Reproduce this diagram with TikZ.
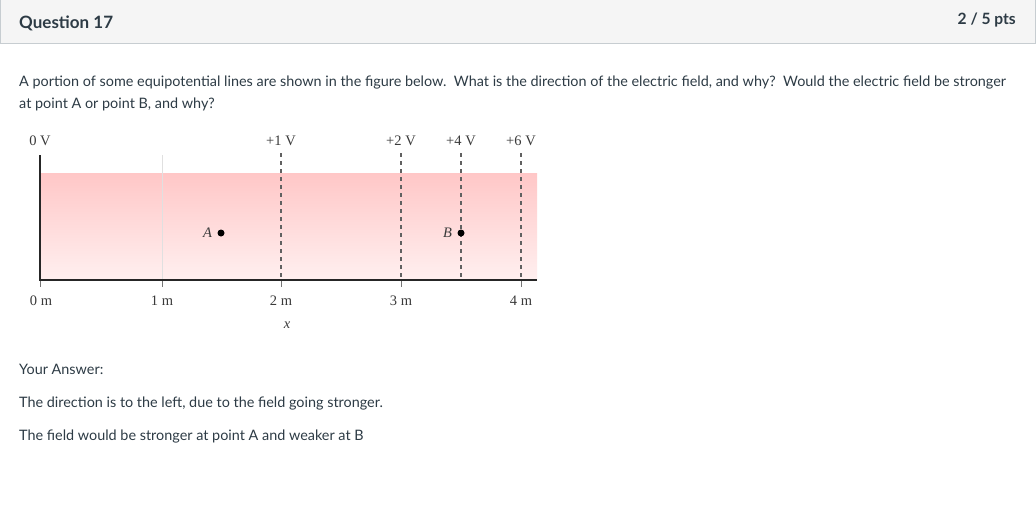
\documentclass[tikz,border=0pt]{standalone}
\usepackage{fontspec}
\setmainfont{Lato}
\newfontfamily\figfont{Liberation Serif}
\usetikzlibrary{positioning}
\definecolor{inktext}{HTML}{2D3B45}
\definecolor{bandgray}{HTML}{F5F5F5}
\definecolor{rulegray}{HTML}{C7CDD1}
\definecolor{figgray}{HTML}{3A3A3A}

\begin{document}
\begin{tikzpicture}[x=1pt, y=-1pt]
  \tikzstyle{body} = [anchor=base west, inner sep=0pt, text=inktext,
                      font=\fontsize{14.4}{17}\selectfont]
  \tikzstyle{figlabel} = [inner sep=0pt, text=figgray, font=\figfont\fontsize{14.5}{17}\selectfont]
  \tikzstyle{figitalic} = [figlabel, font=\figfont\fontsize{14.5}{17}\selectfont\itshape]
  \tikzstyle{equipot} = [draw=figgray!80, line width=1.1pt, dash pattern=on 3.5pt off 4.5pt]
  \tikzstyle{axis} = [draw=black!85, line width=2.4pt]
  \tikzstyle{probe} = [circle, fill=black, inner sep=0pt, minimum size=7pt]
\useasboundingbox (0,0) rectangle (1036,504);
\fill[white] (0,0) rectangle (1036,504);
% header band
\fill[bandgray] (0,0) rectangle (1036,43);
\draw[rulegray, line width=1.2pt] (0.6,0) -- (0.6,43.4) -- (1035.4,43.4) -- (1035.4,0);
\node[body, font=\fontsize{17}{20}\selectfont\bfseries] (qtitle) at (19,28) {Question 17};
\node[body, anchor=base east, font=\fontsize{15.6}{18}\selectfont\bfseries] (qpts) at (1016,24) {2 / 5 pts};
% question text
\node[body] (qline1) at (19,86) {A portion of some equipotential lines are shown in the figure below.\ \ What is the direction of the electric field, and why?\ \ Would the electric field be stronger};
\node[body] (qline2) at (19,108) {at point A or point B, and why?};
% figure
\shade[top color=red!22, bottom color=red!6] (40,173) rectangle (537,280);
\draw[black!12, line width=0.8pt] (162,155) -- (162,280);
\foreach \xpos in {281,401,461,521}
  \draw[equipot] (\xpos,153) -- (\xpos,280);
\foreach \xpos in {40,162,281,401,521}
  \draw[figgray!70, line width=0.9pt] (\xpos,280) -- (\xpos,287);
\draw[axis] (40,155) -- (40,280) -- (537,280);
\node[figlabel] (v0) at (40,141) {0 V};
\node[figlabel] (v1) at (281,141) {+1 V};
\node[figlabel] (v2) at (401,141) {+2 V};
\node[figlabel] (v4) at (461,141) {+4 V};
\node[figlabel] (v6) at (521,141) {+6 V};
\node[figlabel] (m0) at (41,301) {0 m};
\node[figlabel] (m1) at (162,301) {1 m};
\node[figlabel] (m2) at (281,301) {2 m};
\node[figlabel] (m3) at (401,301) {3 m};
\node[figlabel] (m4) at (521,301) {4 m};
\node[figitalic] (xlab) at (287,325) {x};
\node[probe] (ptA) at (221,233) {};
\node[figitalic, left=5pt of ptA] (labA) {A};
\node[probe] (ptB) at (461,233) {};
\node[figitalic, left=5pt of ptB] (labB) {B};
% answer
\node[body] (ans0) at (19,374) {Your Answer:};
\node[body] (ans1) at (19,407) {The direction is to the left, due to the field going stronger.};
\node[body] (ans2) at (19,440) {The field would be stronger at point A and weaker at B};
\end{tikzpicture}
\end{document}
